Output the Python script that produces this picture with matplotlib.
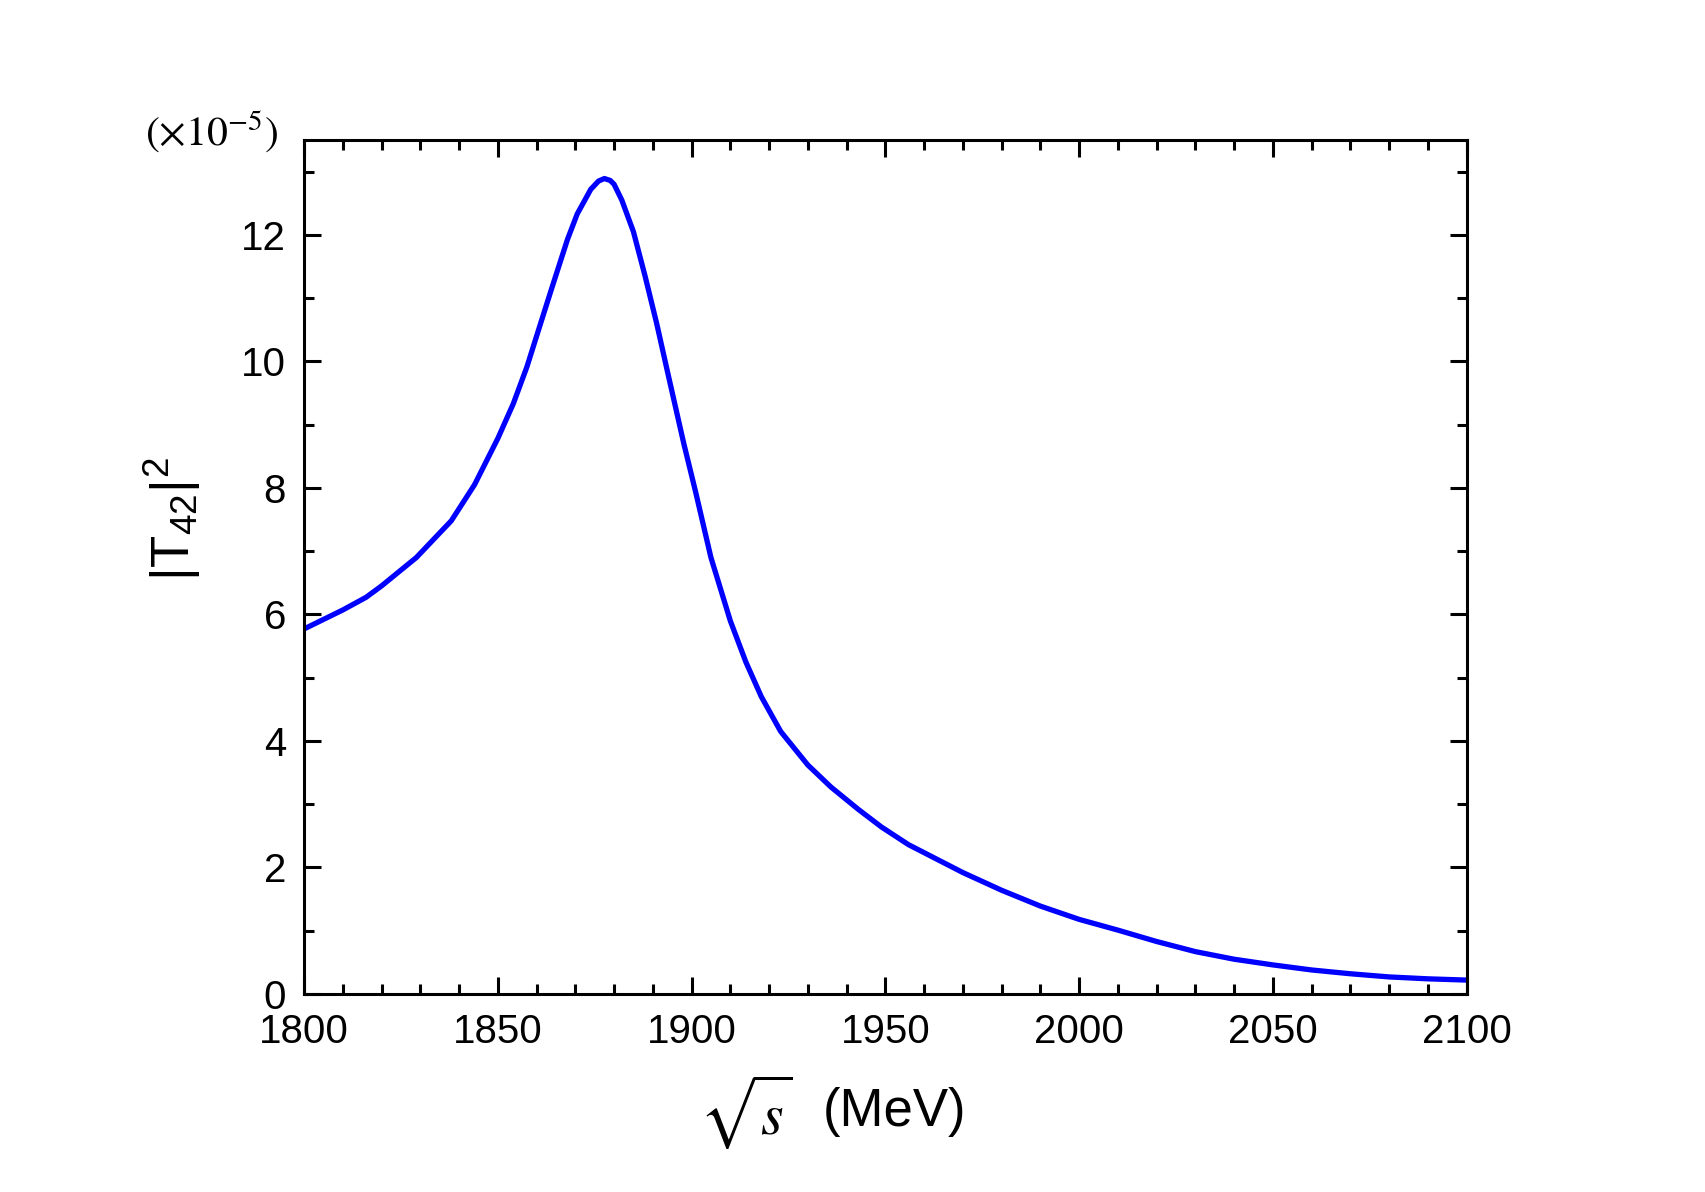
import matplotlib
matplotlib.use("Agg")
import matplotlib.pyplot as plt
from matplotlib.ticker import MultipleLocator
from matplotlib.font_manager import FontProperties

# Data
sqrt_s = [1800, 1810, 1816, 1820, 1829, 1838, 1844, 1850, 1854, 1857.5,
          1861, 1864, 1868, 1870.5, 1874, 1876, 1877.5, 1879, 1880, 1882,
          1885, 1888, 1891, 1894, 1898, 1901, 1905, 1910, 1914, 1918,
          1923, 1930, 1936, 1943, 1949, 1956, 1963, 1970, 1980, 1990,
          2000, 2010, 2020, 2030, 2040, 2050, 2060, 2070, 2080, 2090, 2100]
t42_sq = [5.77, 6.07, 6.27, 6.45, 6.90, 7.48, 8.05, 8.78, 9.33, 9.91,
          10.59, 11.17, 11.93, 12.33, 12.72, 12.85, 12.89, 12.86, 12.80, 12.55,
          12.05, 11.35, 10.60, 9.78, 8.70, 7.95, 6.90, 5.90, 5.25, 4.70,
          4.15, 3.62, 3.27, 2.92, 2.64, 2.36, 2.14, 1.92, 1.64, 1.39,
          1.18, 1.01, 0.83, 0.67, 0.55, 0.46, 0.38, 0.32, 0.27, 0.24, 0.22]

xticks = [1800, 1850, 1900, 1950, 2000, 2050, 2100]
yticks = [0, 2, 4, 6, 8, 10, 12]

plt.rcParams['font.family'] = ['Liberation Sans', 'DejaVu Sans']
plt.rcParams['mathtext.fontset'] = 'custom'
plt.rcParams['mathtext.rm'] = 'Liberation Sans'
plt.rcParams['mathtext.it'] = 'Liberation Sans:italic'
plt.rcParams['mathtext.bf'] = 'Liberation Sans:bold'

fig = plt.figure(figsize=(17.05, 11.92), dpi=100)
ax = fig.add_axes([0.1783, 0.1661, 0.8602 - 0.1783, 0.8826 - 0.1661])

ax.plot(sqrt_s, t42_sq, color='#0000ff', lw=3.8,
        solid_joinstyle='round', solid_capstyle='round')

ax.set_xlim(1800, 2100)
ax.set_ylim(0, 13.5)
ax.set_xticks(xticks)
ax.set_yticks(yticks)
ax.xaxis.set_minor_locator(MultipleLocator(10))
ax.yaxis.set_minor_locator(MultipleLocator(1))

for s in ax.spines.values():
    s.set_linewidth(2.2)
ax.tick_params(which='both', direction='in', top=True, right=True, width=2.2)
ax.tick_params(which='major', length=12, labelsize=29)
ax.tick_params(axis='x', which='major', pad=14)
ax.tick_params(axis='y', which='major', pad=13)
ax.tick_params(which='minor', length=7)

# x label: sqrt(s) in Times italic, (MeV) in sans
fig.text(746 / 1705, 1 - 1112 / 1192, r'$\sqrt{s}$',
         ha='center', va='center',
         fontproperties=FontProperties(size=42, math_fontfamily='stix'))
fig.text(895 / 1705, 1 - 1112 / 1192, '(MeV)', fontsize=38,
         ha='center', va='center')

# y label
fig.text(172 / 1705, 1 - 519 / 1192, r'$|\mathrm{T}_{42}|^2$', fontsize=38,
         rotation=90, ha='center', va='center')

# multiplier
fig.text(145 / 1705, 1 - 146 / 1192, r'$(\times10^{-5})$',
         fontproperties=FontProperties(size=30, math_fontfamily='stix'),
         ha='left', va='baseline')

fig.savefig('out.png', dpi=100)
